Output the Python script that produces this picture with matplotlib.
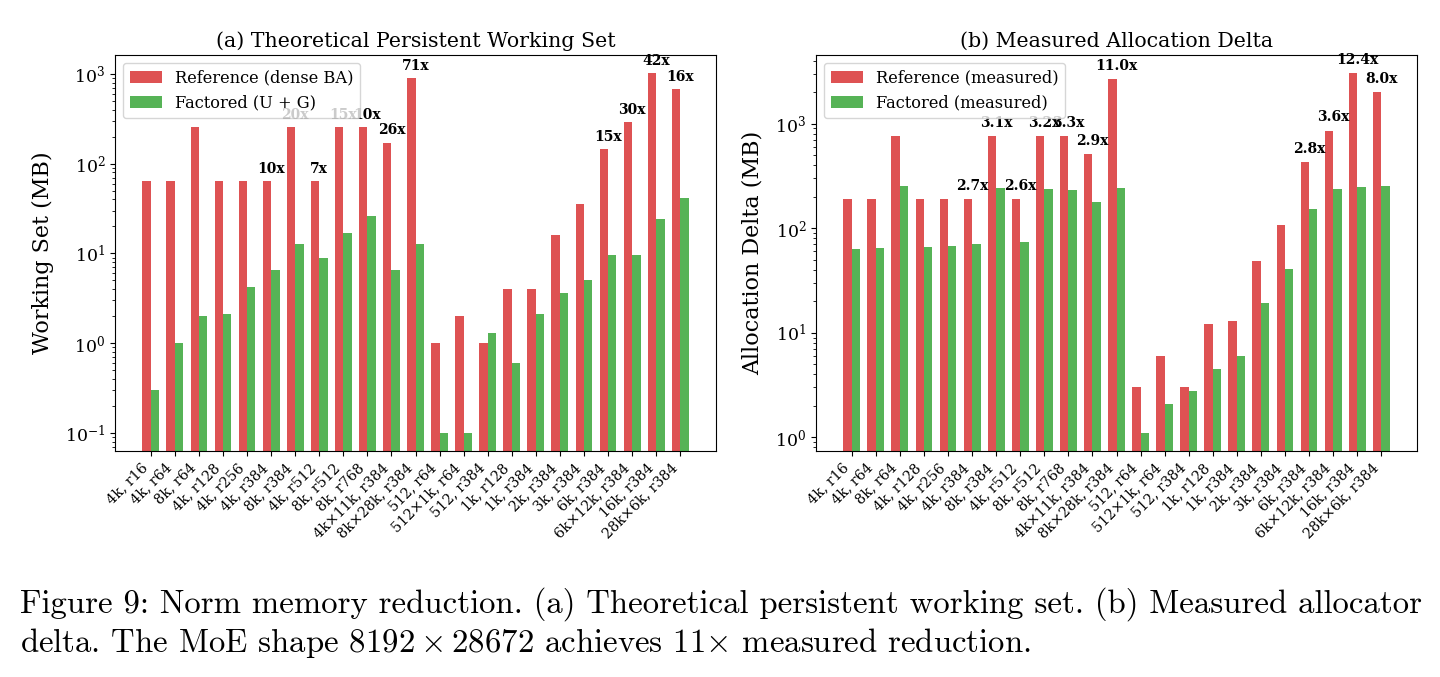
import numpy as np
import matplotlib
matplotlib.use("Agg")
import matplotlib.pyplot as plt

plt.rcParams["font.family"] = ["DejaVu Serif"]
plt.rcParams["mathtext.fontset"] = "dejavuserif"

shapes = ["4k, r16", "4k, r64", "8k, r64", "4k, r128", "4k, r256", "4k, r384",
          "8k, r384", "4k, r512", "8k, r512", "8k, r768", "4k×11k, r384",
          "8k×28k, r384", "512, r64", "512×1k, r64", "512, r384", "1k, r128",
          "1k, r384", "2k, r384", "3k, r384", "6k, r384", "6k×12k, r384",
          "16k, r384", "28k×6k, r384"]

# (a) theoretical working set, MB
theo_ref = [64, 64, 256, 64, 64, 64, 256, 64, 256, 256, 171, 896,
            1.0, 2.0, 1.0, 4.0, 4.0, 16, 36, 144, 288, 1024, 672]
theo_fac = [0.3, 1.0, 2.0, 2.1, 4.2, 6.6, 12.6, 9.0, 17, 26, 6.6, 12.6,
            0.1, 0.1, 1.3, 0.6, 2.1, 3.6, 5.1, 9.6, 9.6, 24.4, 42]
theo_lbl = ["", "", "", "", "", "10x", "20x", "7x", "15x", "10x", "26x", "71x",
            "", "", "", "", "", "", "", "15x", "30x", "42x", "16x"]

# (b) measured allocation delta, MB
meas_ref = [188, 188, 757, 188, 188, 188, 757, 188, 757, 757, 512, 2665,
            3.0, 6.0, 3.0, 12, 13, 48, 107, 427, 857, 3043, 2000]
meas_fac = [63.4, 64.4, 253, 65.8, 67.7, 70.3, 242, 73, 238, 230, 176, 242,
            1.1, 2.1, 2.8, 4.5, 6.0, 19.4, 40.7, 151, 238, 246, 251]
meas_lbl = ["", "", "", "", "", "2.7x", "3.1x", "2.6x", "3.2x", "3.3x", "2.9x", "11.0x",
            "", "", "", "", "", "", "", "2.8x", "3.6x", "12.4x", "8.0x"]

fig = plt.figure(figsize=(14.4, 6.77), dpi=100)
ax1 = fig.add_axes([0.0799, 0.3338, 0.4173, 0.585])
ax2 = fig.add_axes([0.5667, 0.3338, 0.4173, 0.585])

x = np.arange(len(shapes))
w = 0.35


def panel(ax, ref, fac, lbl, names, title, ylabel):
    ax.bar(x - w / 2, ref, w, color="tab:red", alpha=0.8, label=names[0])
    ax.bar(x + w / 2, fac, w, color="tab:green", alpha=0.8, label=names[1])
    ax.set_yscale("log")
    for i, s in enumerate(lbl):
        if s:
            ax.text(x[i], max(ref[i], fac[i]) * 1.15, s, ha="center", va="bottom",
                    fontsize=10, fontweight="bold")
    ax.set_xticks(x)
    ax.set_xticklabels(shapes, rotation=45, ha="right", fontsize=10.3)
    ax.tick_params(axis="y", labelsize=12.5)
    ax.set_title(title, fontsize=14.8)
    ax.set_ylabel(ylabel, fontsize=16, labelpad=8)
    ax.legend(loc="upper left", fontsize=11.7)


panel(ax1, theo_ref, theo_fac, theo_lbl, ["Reference (dense BA)", "Factored (U + G)"],
      "(a) Theoretical Persistent Working Set", "Working Set (MB)")
panel(ax2, meas_ref, meas_fac, meas_lbl, ["Reference (measured)", "Factored (measured)"],
      "(b) Measured Allocation Delta", "Allocation Delta (MB)")

cap1 = ("Figure 9: Norm memory reduction. (a) Theoretical persistent working set. "
        "(b) Measured allocator")
cap2 = r"delta. The MoE shape $8192 \times 28672$ achieves $11{\times}$ measured reduction."
fig.text(20 / 1440, 1 - 613 / 677, cap1, family="cmr10", fontsize=23.6,
         va="baseline", math_fontfamily="cm")
fig.text(20 / 1440, 1 - 652 / 677, cap2, family="cmr10", fontsize=23.6,
         va="baseline", math_fontfamily="cm")

fig.savefig("out.png", dpi=100)
